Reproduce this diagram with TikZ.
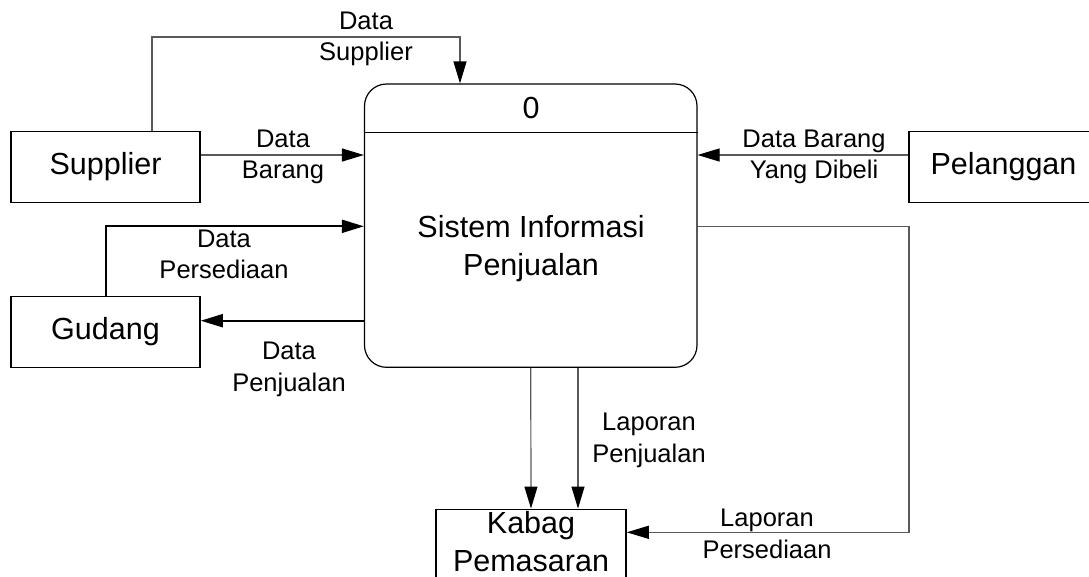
\documentclass[tikz,border=0pt]{standalone}
\usepackage{fontspec}
\setmainfont{Liberation Sans}
\usetikzlibrary{arrows.meta}
\begin{document}
\begin{tikzpicture}[x=1pt,y=-1pt,
  ent/.style={draw,line width=1.5pt,minimum width=189pt,minimum height=71pt,inner sep=0pt,
    font=\fontsize{30.5}{38}\selectfont,align=center},
  proctext/.style={inner sep=0pt,align=center,font=\fontsize{30.5}{38}\selectfont},
  lbl/.style={inner sep=0pt,align=center,font=\fontsize{25.5}{31.7}\selectfont},
  thinflow/.style={draw=black!65,line width=1.2pt,-{Triangle[length=22pt,width=13pt,color=black]}},
  thickflow/.style={draw=black,line width=2pt,-{Triangle[length=22pt,width=13pt,color=black]}},
]
\useasboundingbox (0,0) rectangle (1089,576);

% process
\node[draw,line width=1.2pt,rounded corners=22pt,minimum width=332.5pt,minimum height=283.3pt,inner sep=0pt]
  (proc) at (530.75,225.65) {};
\coordinate (hl) at (0,132.3);
\draw[line width=1.2pt] (proc.west |- hl) -- (proc.east |- hl);
\node[proctext] (zero) at (531,108) {0};
\node[proctext] (ptext) at (531,249) {Sistem Informasi\\Penjualan};

% entities
\node[ent] (sup) at (105.5,166.8) {Supplier};
\node[ent] (gud) at (105.5,332) {Gudang};
\node[ent] (pel) at (1003.5,166.8) {Pelanggan};
\node[ent,minimum width=190pt] (kab) at (531,544.8) {};
\node[proctext] (kabt) at (531,541.5) {Kabag\\Pemasaran};

% helper coordinates
\coordinate (ds1) at (152,37);
\coordinate (ds2) at (460,37);
\coordinate (db) at (0,155);
\coordinate (dp) at (105.5,226.3);
\coordinate (dj) at (0,320.7);
\coordinate (lp1) at (909,226.3);
\coordinate (lp2) at (909,532.3);
\coordinate (lj) at (578,0);

% flows
\draw[thinflow] (sup.north -| ds1) -- (ds1) -- (ds2) -- (proc.north -| ds2);
\draw[thinflow] (sup.east |- db) -- (proc.west |- db);
\draw[thickflow] (gud.north) -- (dp) -- (proc.west |- dp);
\draw[thickflow] (proc.west |- dj) -- (gud.east |- dj);
\draw[thinflow] (pel.west |- db) -- (proc.east |- db);
\draw[thinflow] (proc.east |- lp1) -- (lp1) -- (lp2) -- (kab.east |- lp2);
\draw[thinflow] (proc.south) -- (kab.north);
\draw[thinflow] (proc.south -| lj) -- (kab.north -| lj);

% labels
\node[lbl] (l1) at (366,38.8) {Data\\Supplier};
\node[lbl] (l2) at (283,156.8) {Data\\Barang};
\node[lbl] (l3) at (224,254.2) {Data\\Persediaan};
\node[lbl] (l4) at (289,369.2) {Data\\Penjualan};
\node[lbl] (l5) at (814,156.8) {Data Barang\\Yang Dibeli};
\node[lbl] (l6) at (649,440.3) {Laporan\\Penjualan};
\node[lbl] (l7) at (767,533.7) {Laporan\\Persediaan};
\end{tikzpicture}
\end{document}
